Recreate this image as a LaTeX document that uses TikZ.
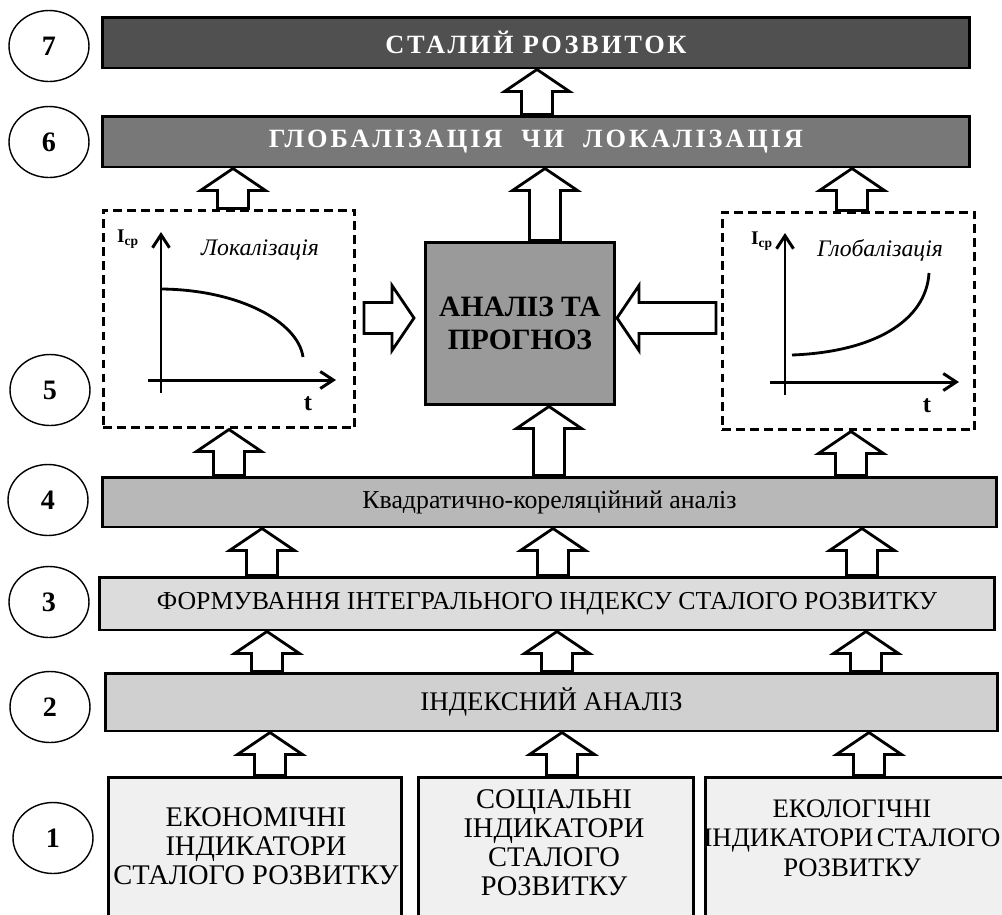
\documentclass[tikz,border=0pt]{standalone}
\usepackage{fontspec}
\setmainfont{Liberation Serif}
\usetikzlibrary{positioning, shapes.geometric, arrows.meta, calc}

\definecolor{fill7}{HTML}{505050}
\definecolor{fill6}{HTML}{787878}
\definecolor{fillc}{HTML}{9A9A9A}
\definecolor{fill4}{HTML}{B8B8B8}
\definecolor{fill3}{HTML}{DCDCDC}
\definecolor{fill2}{HTML}{D0D0D0}
\definecolor{fill1}{HTML}{F0F0F0}

\newcommand{\arrshaft}{0.31cm}
\newcommand{\arrheadw}{0.65cm}
\newcommand{\arrhead}{0.44cm}
% hollow block arrow from #1 to #2
\newcommand{\fatarrow}[2]{%
  \path ($(#2)!\arrhead!(#1)$) coordinate (fm);
  \draw[fat] ($(#1)!\arrshaft!90:(#2)$) -- ($(fm)!\arrshaft!90:(#2)$)
    -- ($(fm)!\arrheadw!90:(#2)$) -- (#2) -- ($(fm)!\arrheadw!-90:(#2)$)
    -- ($(fm)!\arrshaft!-90:(#2)$) -- ($(#1)!\arrshaft!-90:(#2)$) -- cycle;}

\tikzset{
  stage/.style={draw=black, line width=1.7pt, inner sep=0pt},
  num/.style={ellipse, draw=black, line width=0.8pt, minimum width=1.6cm,
    minimum height=1.42cm, inner sep=0pt, font=\fontsize{16}{16}\selectfont\bfseries},
  fat/.style={draw=black, line width=1.6pt, fill=white, line join=miter},
  plotbox/.style={draw=black, line width=1.7pt, dash pattern=on 5pt off 3pt,
    inner sep=0pt, minimum height=4.36cm},
  axis/.style={line width=1.7pt, -{Straight Barb[length=0.26cm, width=0.34cm]}},
  curve/.style={line width=1.6pt},
  indtxt/.style={align=center, inner sep=0pt, font=\fontsize{16.2}{16.5}\selectfont},
  ilabel/.style={font=\fontsize{11}{11}\selectfont\bfseries},
  tlabel/.style={font=\fontsize{14}{14}\selectfont\bfseries},
  plotname/.style={font=\fontsize{13.5}{13.5}\selectfont\itshape},
}

\begin{document}
\begin{tikzpicture}[x=0.02cm, y=-0.02cm]
    \path[use as bounding box, clip] (0,0) rectangle (1002,914);

    % stage numbers
    \node[num] (n7) at (49,46) {7};
    \node[num] (n6) at (49,142) {6};
    \node[num] (n5) at (50,390) {5};
    \node[num] (n4) at (48,500) {4};
    \node[num] (n3) at (49,602) {3};
    \node[num] (n2) at (50,707) {2};
    \node[num] (n1) at (53,838) {1};

    % stages
    \node[stage, fill=fill7, minimum width=17.36cm, minimum height=1.02cm, text=white,
      font=\fontsize{15}{15}\selectfont\bfseries\addfontfeature{LetterSpace=10}]
      (b7) at (536,42.5) {СТАЛИЙ РОЗВИТОК};
    \node[stage, fill=fill6, minimum width=17.36cm, minimum height=1.02cm, text=white,
      font=\fontsize{15}{15}\selectfont\bfseries\addfontfeature{LetterSpace=11}]
      (b6) at (536,141.5) {ГЛОБАЛІЗАЦІЯ\ \ ЧИ\ \ ЛОКАЛІЗАЦІЯ};
    \node[plotbox, minimum width=5.04cm] (dl) at (229,319) {};
    \node[plotbox, minimum width=5.06cm] (dr) at (848.5,321) {};
    \node[stage, fill=fillc, minimum width=3.8cm, minimum height=3.26cm, align=center,
      font=\fontsize{16.8}{18.5}\selectfont\bfseries]
      (cb) at (520,323.5) {АНАЛІЗ ТА\\ПРОГНОЗ};
    \node[stage, fill=fill4, minimum width=17.9cm, minimum height=1.0cm,
      font=\fontsize{14.7}{14.7}\selectfont]
      (b4) at (549.5,502) {Квадратично-кореляційний аналіз};
    \node[stage, fill=fill3, minimum width=17.92cm, minimum height=1.06cm,
      font=\fontsize{14.7}{14.7}\selectfont]
      (b3) at (547,603.5) {ФОРМУВАННЯ ІНТЕГРАЛЬНОГО ІНДЕКСУ СТАЛОГО РОЗВИТКУ};
    \node[stage, fill=fill2, minimum width=17.86cm, minimum height=1.16cm,
      font=\fontsize{15.3}{15.3}\selectfont]
      (b2) at (551.5,702) {ІНДЕКСНИЙ АНАЛІЗ};
    \node[stage, fill=fill1, minimum width=5.88cm, minimum height=3.06cm] (eko) at (255,853.5) {};
    \node[stage, fill=fill1, minimum width=5.52cm, minimum height=3.06cm] (soc) at (556,853.5) {};
    \node[stage, fill=fill1, minimum width=6.1cm, minimum height=3.06cm] (ekl) at (857.5,853.5) {};
    \node[indtxt] (ekotxt) at (256,846) {ЕКОНОМІЧНІ\\ІНДИКАТОРИ\\СТАЛОГО РОЗВИТКУ};
    \node[indtxt] (soctxt) at (554,843) {СОЦІАЛЬНІ\\ІНДИКАТОРИ\\СТАЛОГО\\РОЗВИТКУ};
    \node[indtxt, font=\fontsize{15.2}{16.8}\selectfont] (ekltxt) at (852,838)
      {ЕКОЛОГІЧНІ\\ІНДИКАТОРИ\hspace{-0.12em} СТАЛОГО\\РОЗВИТКУ};

    % plots
    \draw[axis] (161,393) -- (161,232);
    \draw[axis] (148,380) -- (336,380);
    \draw[curve] (162,289) .. controls (240,290) and (298,322) .. (303,357);
    \node[ilabel] (il) at (128,239) {I\textsubscript{ср}};
    \node[tlabel] (tl) at (308,404) {t};
    \node[plotname] (lokal) at (260,250) {Локалізація};

    \draw[axis] (785,395) -- (785,233);
    \draw[axis] (770,382) -- (959,382);
    \draw[curve] (792,355) .. controls (872,352) and (926,322) .. (929,273);
    \node[ilabel] (ir) at (762,241) {I\textsubscript{ср}};
    \node[tlabel] (tr) at (927,406) {t};
    \node[plotname] (global) at (880,250) {Глобалізація};

    % arrows
    \coordinate (la) at (364,318);
    \coordinate (lb) at (414,318);
    \coordinate (ra) at (716,318);
    \coordinate (rb) at (617,318);

    \fatarrow{b6.north -| 537,0}{b7.south -| 537,0}
    \fatarrow{dl.north -| 233,0}{b6.south -| 233,0}
    \fatarrow{cb.north -| 545,0}{b6.south -| 545,0}
    \fatarrow{dr.north -| 852,0}{b6.south -| 852,0}
    \fatarrow{la}{lb}
    \fatarrow{ra}{rb}
    \fatarrow{b4.north -| 229,0}{dl.south -| 229,0}
    \fatarrow{b4.north -| 549,0}{cb.south -| 549,0}
    \fatarrow{b4.north -| 851,0}{dr.south -| 851,0}
    \fatarrow{b3.north -| 262,0}{b4.south -| 262,0}
    \fatarrow{b3.north -| 553,0}{b4.south -| 553,0}
    \fatarrow{b3.north -| 862,0}{b4.south -| 862,0}
    \fatarrow{b2.north -| 267,0}{b3.south -| 267,0}
    \fatarrow{b2.north -| 557,0}{b3.south -| 557,0}
    \fatarrow{b2.north -| 866,0}{b3.south -| 866,0}
    \fatarrow{eko.north -| 270,0}{b2.south -| 270,0}
    \fatarrow{soc.north -| 562,0}{b2.south -| 562,0}
    \fatarrow{ekl.north -| 869,0}{b2.south -| 869,0}
\end{tikzpicture}
\end{document}
